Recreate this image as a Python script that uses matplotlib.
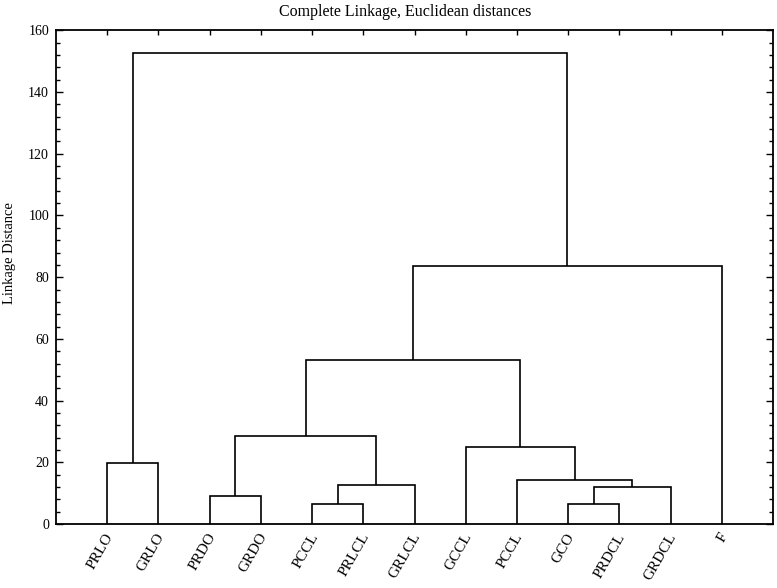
import matplotlib
matplotlib.use("Agg")
import matplotlib.pyplot as plt
from matplotlib.ticker import MultipleLocator

leaf_labels = ["PRLO", "GRLO", "PRDO", "GRDO", "PCCL", "PRLCL", "GRLCL",
               "GCCL", "PCCL", "GCO", "PRDCL", "GRDCL", "F"]
# merges: (left node, right node, linkage distance); new nodes numbered from 13
merge_left = [4, 9, 2, 14, 13, 8, 0, 7, 15, 21, 22, 19]
merge_right = [5, 10, 3, 11, 6, 16, 1, 18, 17, 20, 12, 23]
merge_height = [6.4, 6.6, 9.0, 11.9, 12.7, 14.2, 19.7, 25.1, 28.5, 53.2, 83.5, 152.7]

plt.rcParams['font.family'] = ['Liberation Serif', 'DejaVu Serif']

W, H = 777, 588
fig = plt.figure(figsize=(W / 100, H / 100), dpi=100)
ax = fig.add_axes([56 / W, 1 - 524 / H, (773 - 56) / W, (524 - 30.4) / H])

n = len(leaf_labels)
xpos = {i: i + 1 for i in range(n)}
ypos = {i: 0.0 for i in range(n)}
lw = 1.2
for k, (a, b, h) in enumerate(zip(merge_left, merge_right, merge_height)):
    node = n + k
    xa, xb = xpos[a], xpos[b]
    ax.plot([xa, xa, xb, xb], [ypos[a], h, h, ypos[b]], color='black', lw=lw,
            solid_joinstyle='miter', solid_capstyle='butt')
    xpos[node] = (xa + xb) / 2
    ypos[node] = h

ax.set_xlim(0, n + 1)
ax.set_ylim(0, 160)
ax.yaxis.set_major_locator(MultipleLocator(20))
ax.yaxis.set_minor_locator(MultipleLocator(4))
ax.set_xticks(range(1, n + 1))
ax.set_xticklabels([])
ax.tick_params(axis='y', which='major', direction='in', length=5, width=1,
               left=True, right=True, labelsize=10, pad=5)
ax.tick_params(axis='y', which='minor', direction='in', length=3, width=1,
               left=True, right=True)
ax.tick_params(axis='x', which='major', direction='in', length=3.5, width=1,
               top=True, bottom=False)
for s in ax.spines.values():
    s.set_linewidth(1.3)

for i, lab in enumerate(leaf_labels):
    ax.text(i + 1 + 0.06, -3.3, lab, rotation=60, rotation_mode='anchor',
            ha='right', va='center', fontsize=11)

fig.text(9.5 / W, 1 - 253 / H, "Linkage Distance", rotation=90,
         ha='center', va='center', fontsize=10.5)
fig.text(405 / W, 1 - 15.5 / H, "Complete Linkage, Euclidean distances",
         ha='center', va='baseline', fontsize=11.5)

fig.savefig("out.png", dpi=100)
